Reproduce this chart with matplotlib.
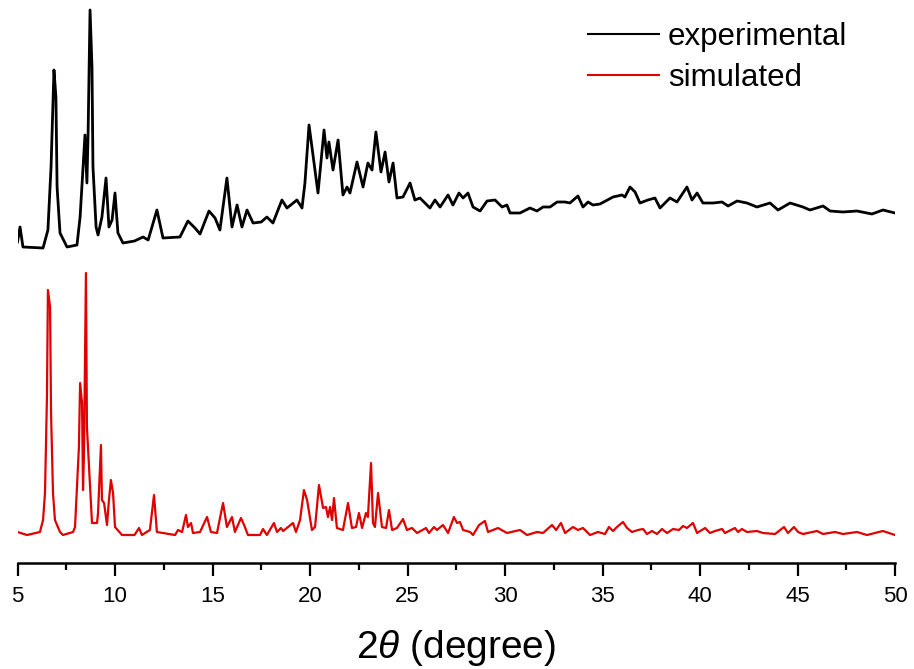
import matplotlib
matplotlib.use("Agg")
import matplotlib.pyplot as plt
from matplotlib.ticker import MultipleLocator

plt.rcParams['font.family'] = ['Liberation Sans', 'DejaVu Sans']
plt.rcParams['mathtext.fontset'] = 'custom'
plt.rcParams['mathtext.it'] = 'Liberation Sans:italic'
plt.rcParams['mathtext.rm'] = 'Liberation Sans'

# ---- data (2theta in degrees, intensity in arbitrary units, stacked) ----
exp_x = [5.0, 5.13, 5.28, 6.31, 6.56, 6.72, 6.82, 6.87, 6.97, 7.03, 7.18, 7.54,
         8.05, 8.21, 8.36, 8.46, 8.56, 8.62, 8.72, 8.82, 8.87, 9.03, 9.13, 9.33,
         9.54, 9.69, 9.85, 10.0, 10.15, 10.41, 11.0, 11.44, 11.7, 12.15, 12.46,
         13.33, 13.74, 14.10, 14.36, 14.82, 15.13, 15.38, 15.74, 16.0, 16.26,
         16.51, 16.77, 17.08, 17.5, 17.79, 18.10, 18.56, 18.82, 19.33, 19.59,
         19.74, 19.95, 20.41, 20.72, 20.87, 20.97, 21.18, 21.44, 21.69, 21.90,
         22.05, 22.41, 22.72, 22.97, 23.18, 23.38, 23.64, 23.85, 24.05, 24.26,
         24.46, 24.77, 25.13, 25.38, 25.64, 26.15, 26.41, 26.67, 27.08, 27.33,
         27.64, 27.85, 28.10, 28.36, 28.72, 29.08, 29.49, 29.85, 30.10, 30.26,
         30.77, 31.28, 31.64, 31.95, 32.31, 32.67, 33.08, 33.33, 33.74, 34.0,
         34.26, 34.51, 34.87, 35.54, 36.0, 36.15, 36.41, 36.67, 36.92, 37.33,
         37.69, 37.95, 38.46, 38.82, 39.33, 39.59, 39.85, 40.15, 40.67, 41.13,
         41.44, 41.90, 42.41, 42.92, 43.59, 44.0, 44.62, 45.28, 45.64, 46.31,
         46.67, 47.33, 48.05, 48.82, 49.38, 50.0]
exp_y = [321, 336, 316, 315, 333, 396, 463, 493, 466, 376, 330, 316,
         318, 346, 396, 428, 380, 430, 553, 496, 396, 336, 328, 346,
         385, 336, 343, 370, 330, 320, 322, 326, 323, 353, 325,
         326, 342, 335, 329, 352, 345, 333, 385, 336, 358,
         336, 353, 340, 341, 346, 340, 363, 355, 363, 355,
         380, 438, 370, 433, 405, 421, 393, 423, 368, 376,
         370, 401, 376, 400, 393, 431, 391, 411, 381, 400,
         365, 366, 380, 363, 365, 355, 363, 356, 368, 358,
         370, 365, 370, 356, 352, 362, 363, 356, 358, 350,
         350, 355, 352, 356, 356, 361, 361, 360, 367, 356,
         361, 358, 359, 366, 368, 366, 376, 371, 360, 363,
         365, 355, 365, 361, 376, 363, 370, 360, 360, 361,
         357, 362, 360, 356, 360, 353, 360, 356, 353, 357,
         352, 351, 352, 349, 353, 350]

sim_x = [5.0, 5.49, 6.15, 6.31, 6.41, 6.51, 6.56, 6.67, 6.72, 6.82, 6.92, 7.18, 7.33,
         7.85, 7.95, 8.15, 8.21, 8.31, 8.36, 8.41, 8.51, 8.56, 8.67, 8.82, 9.08,
         9.13, 9.23, 9.28, 9.33, 9.44, 9.59, 9.69, 9.79, 9.90, 10.0, 10.36,
         11.0, 11.23, 11.38, 11.79, 12.0, 12.15, 13.08, 13.23, 13.44, 13.64,
         13.74, 13.90, 14.0, 14.36, 14.72, 14.92, 15.23, 15.54, 15.74, 16.0,
         16.15, 16.46, 16.62, 16.82, 17.44, 17.59, 17.79, 18.15, 18.31, 18.51,
         18.62, 19.13, 19.28, 19.49, 19.69, 19.85, 20.10, 20.26, 20.46, 20.67,
         20.82, 20.92, 21.03, 21.13, 21.23, 21.38, 21.69, 21.95, 22.15, 22.36,
         22.51, 22.67, 22.87, 22.97, 23.13, 23.23, 23.33, 23.49, 23.69, 23.90,
         24.05, 24.21, 24.46, 24.77, 24.97, 25.23, 25.49, 25.95, 26.10, 26.36,
         26.51, 26.82, 27.08, 27.38, 27.54, 27.69, 27.85, 28.21, 28.36, 28.67,
         28.97, 29.13, 29.64, 30.10, 30.77, 31.13, 31.64, 31.95, 32.41, 32.62,
         32.87, 33.08, 33.49, 33.74, 34.0, 34.36, 34.77, 35.13, 35.33, 35.54,
         35.74, 36.05, 36.26, 36.51, 36.82, 37.08, 37.28, 37.54, 37.79, 38.05,
         38.31, 38.62, 38.92, 39.13, 39.33, 39.64, 39.85, 40.10, 40.26, 40.51,
         40.77, 41.13, 41.28, 41.79, 41.95, 42.15, 42.41, 42.92, 43.23, 43.85,
         44.31, 44.51, 44.82, 45.03, 45.28, 46.0, 46.31, 46.92, 47.33, 48.05,
         48.56, 49.38, 50.0]
sim_y = [31, 28, 31, 43, 70, 166, 273, 256, 150, 70, 43, 31, 28,
         31, 36, 116, 180, 160, 73, 110, 290, 136, 96, 40, 40,
         50, 96, 118, 63, 60, 38, 63, 83, 70, 36, 28,
         28, 35, 28, 33, 68, 31, 28, 33, 31, 48,
         36, 40, 30, 31, 46, 31, 30, 60, 36, 46,
         31, 45, 38, 28, 28, 34, 28, 40, 31, 35,
         32, 40, 31, 43, 73, 63, 33, 36, 78, 55,
         56, 46, 56, 43, 65, 35, 33, 60, 35, 36,
         50, 35, 50, 46, 100, 40, 36, 70, 36, 35,
         53, 33, 35, 44, 33, 35, 30, 35, 30, 36,
         33, 38, 30, 46, 40, 41, 33, 31, 28, 38,
         42, 31, 35, 30, 33, 28, 31, 30, 38, 33,
         40, 30, 36, 33, 35, 28, 31, 29, 36, 32,
         36, 41, 35, 31, 33, 34, 29, 32, 29, 34,
         30, 34, 33, 37, 35, 40, 30, 33, 35, 30,
         32, 34, 30, 35, 31, 34, 31, 32, 30, 29,
         36, 30, 36, 31, 29, 32, 29, 31, 29, 31,
         28, 32, 28]

labels = ['experimental', 'simulated']
colors = ['black', '#e00000']
xticks = [5, 10, 15, 20, 25, 30, 35, 40, 45, 50]

W, H = 914, 669
fig = plt.figure(figsize=(W / 100, H / 100), dpi=100)
ax = fig.add_axes([17.5 / W, 106 / H, (895 - 17.5) / W, 563 / H])

ax.plot(exp_x, exp_y, color=colors[0], lw=2.0, label=labels[0])
ax.plot(sim_x, sim_y, color=colors[1], lw=1.6, label=labels[1])

ax.set_xlim(5, 50)
ax.set_ylim(0, 563)
for s in ['top', 'right', 'left']:
    ax.spines[s].set_visible(False)
ax.spines['bottom'].set_linewidth(1.8)
ax.set_yticks([])
ax.set_xticks(xticks)
ax.xaxis.set_minor_locator(MultipleLocator(2.5))
ax.tick_params(axis='x', which='major', direction='out', length=9.5, width=1.6,
               labelsize=16, pad=7)
ax.tick_params(axis='x', which='minor', direction='out', length=5, width=1.6)
ax.set_xlabel(r'2$\theta$ (degree)', fontsize=28, labelpad=15)
ax.patch.set_alpha(0)

leg = ax.legend(loc='upper left', bbox_to_anchor=(588 / W, 1 - 22 / H),
                bbox_transform=fig.transFigure, frameon=False, fontsize=22.5,
                handlelength=2.27, handletextpad=0.29, labelspacing=0.36,
                borderpad=0, borderaxespad=0)
for line in leg.get_lines():
    line.set_linewidth(1.5)

fig.savefig('out.png', dpi=100)
